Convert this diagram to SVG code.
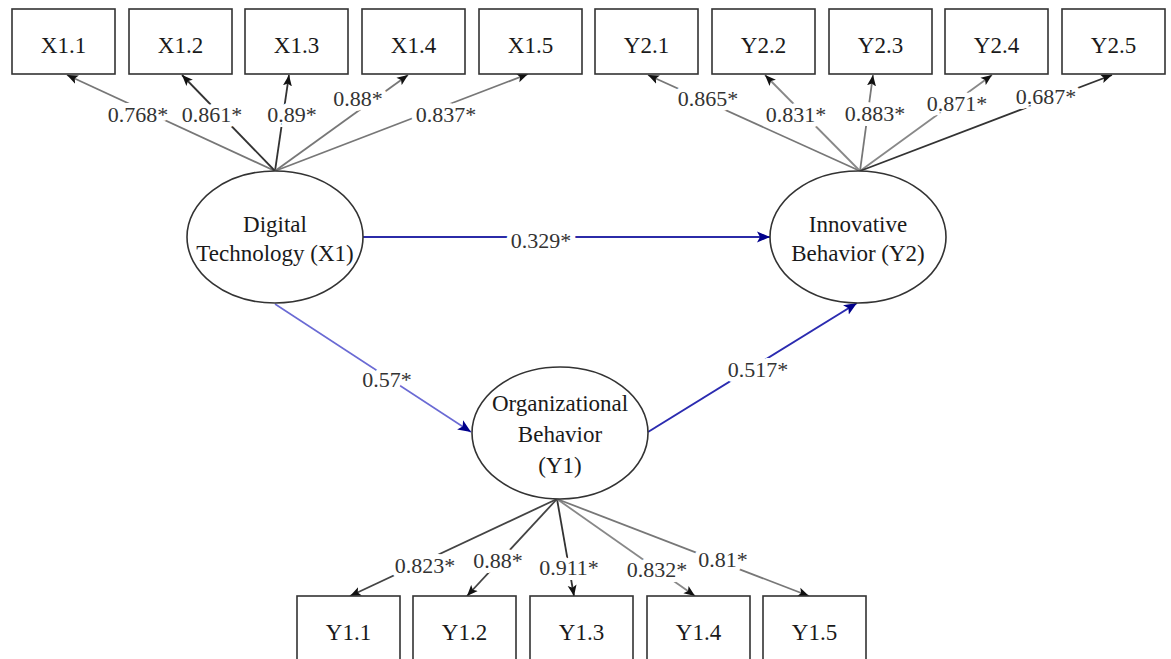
<svg xmlns="http://www.w3.org/2000/svg" width="1171" height="659" viewBox="0 0 1171 659">
<style>
.box{fill:#fff;stroke:#333;stroke-width:1.6}
.lat{fill:#fff;stroke:#333;stroke-width:1.6}
.t{font-family:"Liberation Serif","Times New Roman",serif;font-size:23px;fill:#1a1a1a;text-anchor:middle}
.lbl{font-family:"Liberation Serif","Times New Roman",serif;font-size:22px;fill:#333;text-anchor:middle;stroke:#fff;stroke-width:10px;paint-order:stroke;stroke-linejoin:round}
.ld{fill:none;stroke-width:1.8;marker-end:url(#ah)}
.st{fill:none;marker-end:url(#ahb)}
</style>
<defs>
<marker id="ah" markerUnits="userSpaceOnUse" markerWidth="12" markerHeight="10" refX="11" refY="5" orient="auto">
<path d="M0,0.5 L11,5 L0,9.5 L2.5,5 z" fill="#111"/>
</marker>
<marker id="ahb" markerUnits="userSpaceOnUse" markerWidth="14" markerHeight="12" refX="13" refY="6" orient="auto">
<path d="M0,0.5 L13,6 L0,11.5 L3,6 z" fill="#00008b"/>
</marker>
</defs>

<g id="connectors">
<g id="loadings-x1">
<path class="ld" stroke="#777" d="M275,171 L67,75"/>
<path class="ld" stroke="#333" d="M275,171 L182,75"/>
<path class="ld" stroke="#333" d="M275,171 L289,75"/>
<path class="ld" stroke="#777" d="M275,171 L408,75"/>
<path class="ld" stroke="#777" d="M275,171 L528,74"/>
</g>
<g id="loadings-y2">
<path class="ld" stroke="#777" d="M860,171 L648,75"/>
<path class="ld" stroke="#888" d="M860,171 L765,75"/>
<path class="ld" stroke="#777" d="M860,171 L873,75"/>
<path class="ld" stroke="#888" d="M860,171 L992,75"/>
<path class="ld" stroke="#333" stroke-width="2.2" d="M860,171 L1112,75"/>
</g>
<g id="loadings-y1">
<path class="ld" stroke="#444" d="M557,499 L350,596"/>
<path class="ld" stroke="#444" d="M557,499 L467,596"/>
<path class="ld" stroke="#333" d="M557,499 L574,596"/>
<path class="ld" stroke="#888" d="M557,499 L695,596"/>
<path class="ld" stroke="#777" d="M557,499 L809,596"/>
</g>
<g id="structural">
<path class="st" stroke="#2b2ba8" stroke-width="2" d="M363,237 L770,237"/>
<path class="st" stroke="#6a6ad4" stroke-width="1.6" d="M275,304 L471,432"/>
<path class="st" stroke="#2b2bb0" stroke-width="2" d="M648,432 L857,303"/>
</g>
<g id="edge-labels">
<text class="lbl" x="138" y="122">0.768*</text>
<text class="lbl" x="212" y="122">0.861*</text>
<text class="lbl" x="292" y="122">0.89*</text>
<text class="lbl" x="358" y="106">0.88*</text>
<text class="lbl" x="446" y="122">0.837*</text>
<text class="lbl" x="708" y="106">0.865*</text>
<text class="lbl" x="796" y="122">0.831*</text>
<text class="lbl" x="875" y="121">0.883*</text>
<text class="lbl" x="957" y="111">0.871*</text>
<text class="lbl" x="1046" y="104">0.687*</text>
<text class="lbl" x="541" y="248">0.329*</text>
<text class="lbl" x="387" y="387">0.57*</text>
<text class="lbl" x="758" y="377">0.517*</text>
<text class="lbl" x="425" y="573">0.823*</text>
<text class="lbl" x="498" y="568">0.88*</text>
<text class="lbl" x="569" y="575">0.911*</text>
<text class="lbl" x="657" y="577">0.832*</text>
<text class="lbl" x="723" y="567">0.81*</text>
</g>
</g>

<g id="X1.1"><rect class="box" x="12" y="9" width="103" height="65"/><text class="t" x="63.5" y="53">X1.1</text></g>
<g id="X1.2"><rect class="box" x="129" y="9" width="103" height="65"/><text class="t" x="180.5" y="53">X1.2</text></g>
<g id="X1.3"><rect class="box" x="245" y="9" width="103" height="65"/><text class="t" x="296.5" y="53">X1.3</text></g>
<g id="X1.4"><rect class="box" x="362" y="9" width="103" height="65"/><text class="t" x="413.5" y="53">X1.4</text></g>
<g id="X1.5"><rect class="box" x="479" y="9" width="103" height="65"/><text class="t" x="530.5" y="53">X1.5</text></g>
<g id="Y2.1"><rect class="box" x="595" y="9" width="103" height="65"/><text class="t" x="646.5" y="53">Y2.1</text></g>
<g id="Y2.2"><rect class="box" x="712" y="9" width="103" height="65"/><text class="t" x="763.5" y="53">Y2.2</text></g>
<g id="Y2.3"><rect class="box" x="829" y="9" width="103" height="65"/><text class="t" x="880.5" y="53">Y2.3</text></g>
<g id="Y2.4"><rect class="box" x="945" y="9" width="103" height="65"/><text class="t" x="996.5" y="53">Y2.4</text></g>
<g id="Y2.5"><rect class="box" x="1062" y="9" width="103" height="65"/><text class="t" x="1113.5" y="53">Y2.5</text></g>

<g id="Y1.1"><rect class="box" x="297" y="596" width="103" height="70"/><text class="t" x="348.5" y="640">Y1.1</text></g>
<g id="Y1.2"><rect class="box" x="413" y="596" width="103" height="70"/><text class="t" x="464.5" y="640">Y1.2</text></g>
<g id="Y1.3"><rect class="box" x="530" y="596" width="103" height="70"/><text class="t" x="581.5" y="640">Y1.3</text></g>
<g id="Y1.4"><rect class="box" x="647" y="596" width="103" height="70"/><text class="t" x="698.5" y="640">Y1.4</text></g>
<g id="Y1.5"><rect class="box" x="763" y="596" width="103" height="70"/><text class="t" x="814.5" y="640">Y1.5</text></g>

<g id="X1"><ellipse class="lat" cx="275" cy="237" rx="88" ry="66"/><text class="t" x="275" y="232">Digital</text><text class="t" x="275" y="261">Technology (X1)</text></g>
<g id="Y2"><ellipse class="lat" cx="858" cy="237" rx="88" ry="66"/><text class="t" x="858" y="232">Innovative</text><text class="t" x="858" y="261">Behavior (Y2)</text></g>
<g id="Y1"><ellipse class="lat" cx="560" cy="433" rx="88" ry="66"/><text class="t" x="560" y="411">Organizational</text><text class="t" x="560" y="442">Behavior</text><text class="t" x="560" y="473">(Y1)</text></g>
</svg>
